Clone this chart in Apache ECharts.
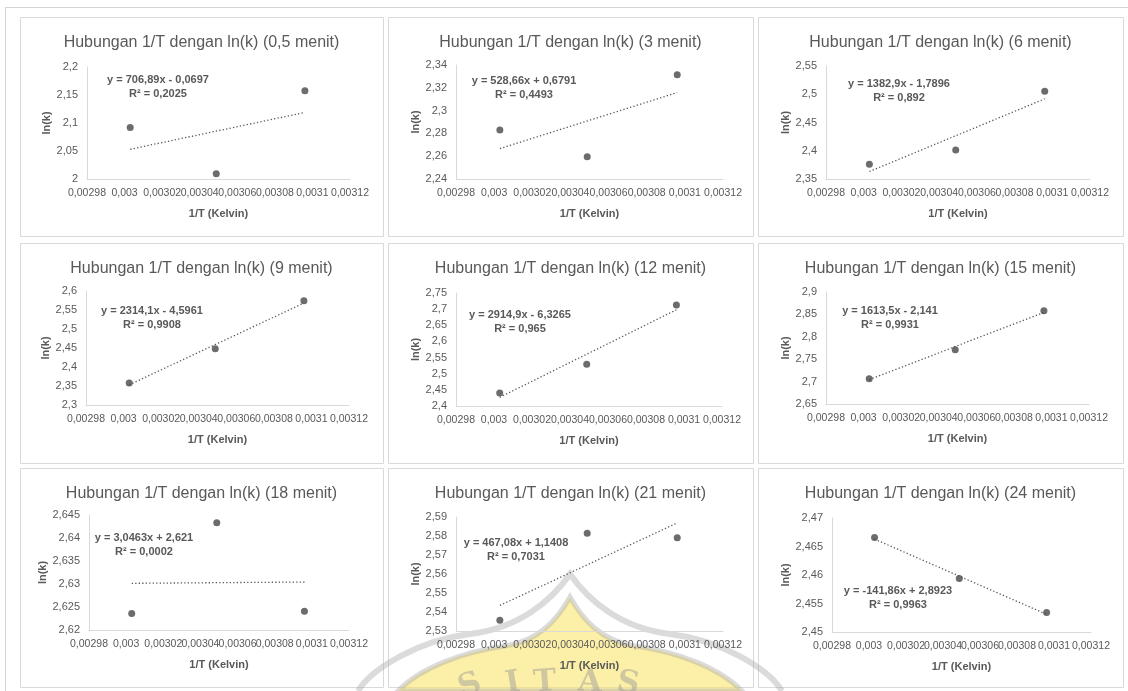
<!DOCTYPE html>
<html>
<head>
<meta charset="utf-8">
<script src="https://cdn.jsdelivr.net/npm/echarts@6/dist/echarts.min.js"></script>
<style>
  html, body { margin: 0; padding: 0; background: #ffffff; }
  #chart { width: 1128px; height: 691px; }
</style>
</head>
<body>
<div id="chart"></div>
<script>
// Reaction time of each sample (minutes)
const minutes = ['0,5', '3', '6', '9', '12', '15', '18', '21', '24'];
// 1/T (K^-1) for 60, 55 and 50 °C
const invT = [0.0030030, 0.0030488, 0.0030960];
// ln(k) at each temperature, one array per reaction time
const lnK_0_5 = [2.0920, 2.0095, 2.1577];
const lnK_3   = [2.2830, 2.2596, 2.3315];
const lnK_6   = [2.3760, 2.4012, 2.5053];
const lnK_9   = [2.3580, 2.4478, 2.5744];
const lnK_12  = [2.4403, 2.5290, 2.7128];
const lnK_15  = [2.7065, 2.7710, 2.8580];
const lnK_18  = [2.6236, 2.6433, 2.6241];
const lnK_21  = [2.5356, 2.5814, 2.5791];
const lnK_24  = [2.4666, 2.4594, 2.4534];
// Linear trendline of each panel: y = slope * x + intercept
const slope     = [706.89, 528.66, 1382.9, 2314.1, 2914.9, 1613.5, 3.0463, 467.08, -141.86];
const intercept = [-0.0697, 0.6791, -1.7896, -4.5961, -6.3265, -2.141, 2.621, 1.1408, 2.8923];
const rSquared  = [0.2025, 0.4493, 0.892, 0.9908, 0.965, 0.9931, 0.0002, 0.7031, 0.9963];
// Axis ticks
const xMin = 0.00298, xMax = 0.00312, xStep = 0.00002;
const yMin  = [2, 2.24, 2.35, 2.3, 2.4, 2.65, 2.62, 2.53, 2.45];
const yMax  = [2.2, 2.34, 2.55, 2.6, 2.75, 2.9, 2.645, 2.59, 2.47];
const yStep = [0.05, 0.02, 0.05, 0.05, 0.05, 0.05, 0.005, 0.01, 0.005];

const lnK = [lnK_0_5, lnK_3, lnK_6, lnK_9, lnK_12, lnK_15, lnK_18, lnK_21, lnK_24];

// ---- layout (pixels) ----
const panelX = [20, 388, 758], panelY = [17, 243, 468];
const panelW = [363, 365, 365], panelH = [219, 220, 219];
const plotLeft = [67, 68, 68, 66, 68, 68, 69, 68, 74];
const plotTop  = [50, 48, 49, 48, 50, 49, 47, 49, 50];
const plotW    = [263, 267, 264, 263, 266, 263, 260, 267, 259];
const plotH    = [112, 114, 113, 114, 113, 112, 115, 114, 114];
// centre x / top y of each trendline equation block
const eqPos = [[158, 73], [524, 74], [899, 77], [152, 304], [520, 308], [890, 304], [144, 531], [516, 536], [898, 584]];

const FONT = "'Liberation Sans', Arial, sans-serif";
const TEXT = '#595959';
const LINE = '#D9D9D9';

const dec = v => String(+(+v).toFixed(6)).replace('.', ',');

const grids = [], xAxes = [], yAxes = [], series = [], graphics = [];

// sheet edge lines
graphics.push({ type: 'line', z: -30, shape: { x1: 5, y1: 7.5, x2: 1128, y2: 7.5 }, style: { stroke: '#D4D4D4', lineWidth: 1 } });
graphics.push({ type: 'line', z: -30, shape: { x1: 5.5, y1: 7, x2: 5.5, y2: 691 }, style: { stroke: '#D4D4D4', lineWidth: 1 } });

for (let i = 0; i < 9; i++) {
  const col = i % 3, row = Math.floor(i / 3);
  const px = panelX[col], py = panelY[row];

  // chart frame
  graphics.push({
    type: 'rect', z: -20,
    shape: { x: px + 0.5, y: py + 0.5, width: panelW[col], height: panelH[row] },
    style: { fill: '#ffffff', stroke: LINE, lineWidth: 1 }
  });
  // chart title
  graphics.push({
    type: 'text', z: 10,
    x: px + panelW[col] / 2, y: py + 26,
    style: {
      text: 'Hubungan 1/T dengan ln(k) (' + minutes[i] + ' menit)',
      font: '16px ' + FONT, fill: TEXT, align: 'center', verticalAlign: 'middle'
    }
  });
  // trendline equation and R²
  const eq = 'y = ' + dec(slope[i]) + 'x ' + (intercept[i] < 0 ? '- ' : '+ ') + dec(Math.abs(intercept[i]));
  graphics.push({
    type: 'text', z: 10,
    x: eqPos[i][0], y: eqPos[i][1],
    style: {
      text: eq + '\nR² = ' + dec(rSquared[i]),
      font: 'bold 11px ' + FONT, fill: TEXT, align: 'center', verticalAlign: 'top', lineHeight: 14
    }
  });

  grids.push({ left: px + plotLeft[i], top: py + plotTop[i], width: plotW[i], height: plotH[i] });

  xAxes.push({
    gridIndex: i, type: 'value', min: xMin, max: xMax, interval: xStep,
    name: '1/T (Kelvin)', nameLocation: 'middle', nameGap: 29,
    nameTextStyle: { fontFamily: FONT, fontWeight: 'bold', fontSize: 11, color: TEXT },
    axisLine: { show: true, onZero: false, lineStyle: { color: LINE, width: 1 } },
    axisTick: { show: false }, splitLine: { show: false },
    axisLabel: { formatter: dec, fontFamily: FONT, fontSize: 10.5, color: TEXT, margin: 9 }
  });
  yAxes.push({
    gridIndex: i, type: 'value', min: yMin[i], max: yMax[i], interval: yStep[i],
    name: 'ln(k)', nameLocation: 'middle', nameGap: plotLeft[i] - 27 - 6,
    nameTextStyle: { fontFamily: FONT, fontWeight: 'bold', fontSize: 11, color: TEXT },
    axisLine: { show: true, onZero: false, lineStyle: { color: LINE, width: 1 } },
    axisTick: { show: false }, splitLine: { show: false },
    axisLabel: { formatter: dec, fontFamily: FONT, fontSize: 11, color: TEXT, margin: 9 }
  });

  // dotted linear trendline drawn from its equation across the measured range
  const x0 = invT[0], x1 = invT[invT.length - 1];
  series.push({
    type: 'line', xAxisIndex: i, yAxisIndex: i, silent: true, z: 2,
    showSymbol: false, symbol: 'none',
    data: [[x0, slope[i] * x0 + intercept[i]], [x1, slope[i] * x1 + intercept[i]]],
    lineStyle: { color: TEXT, width: 1.3, type: [1.3, 2.2] }
  });
  series.push({
    type: 'scatter', xAxisIndex: i, yAxisIndex: i, z: 3,
    symbol: 'circle', symbolSize: 7,
    data: invT.map((x, k) => [x, lnK[i][k]]),
    itemStyle: { color: '#474747' }
  });
}

// university watermark at the bottom of the sheet
const markFont = 'bold 31px "DejaVu Serif", serif';
const markFill = 'rgba(150,150,150,0.45)';
const letters = [['S', 470, 686, 0.35], ['I', 513, 684, 0.16], ['T', 545, 683, 0.07], ['A', 590, 683, -0.05], ['S', 628, 684, -0.16]];
series.push({
  type: 'custom', coordinateSystem: 'none', silent: true, z: -5,
  data: [0],
  renderItem: function () {
    return {
      type: 'group',
      children: [
        {
          type: 'path',
          shape: { pathData: 'M398 691 C420 668 462 652 505 646 C540 641 558 618 570 597 C582 618 600 641 635 646 C678 652 720 668 742 691 Z' },
          style: { fill: 'rgba(250,228,110,0.6)', stroke: 'rgba(170,170,170,0.42)', lineWidth: 5 }
        },
        {
          type: 'path',
          shape: { pathData: 'M358 691 C372 668 420 640 470 634 C520 628 552 600 570 574 C588 600 620 628 670 634 C720 640 768 668 782 691' },
          style: { fill: 'none', stroke: 'rgba(170,170,170,0.42)', lineWidth: 6 }
        }
      ].concat(letters.map(l => ({
        type: 'text', x: l[1], y: l[2], rotation: l[3],
        style: { text: l[0], font: markFont, fill: markFill, align: 'center', verticalAlign: 'middle' }
      })))
    };
  }
});

const chart = echarts.init(document.getElementById('chart'), null, { renderer: 'canvas' });
chart.setOption({
  animation: false,
  backgroundColor: '#ffffff',
  textStyle: { fontFamily: FONT },
  grid: grids,
  xAxis: xAxes,
  yAxis: yAxes,
  series: series,
  graphic: graphics
});
</script>
</body>
</html>
